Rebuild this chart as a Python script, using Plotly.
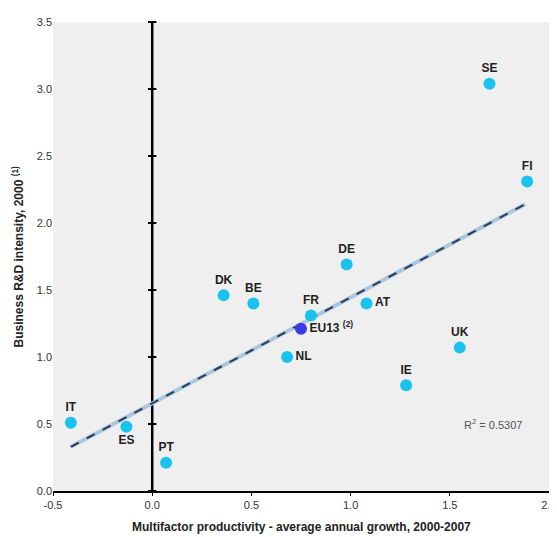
import plotly.graph_objects as go

countries = ["IT", "ES", "PT", "DK", "BE", "NL", "FR", "AT", "DE", "IE", "UK", "SE", "FI"]
mfp_growth = [-0.41, -0.13, 0.07, 0.36, 0.51, 0.68, 0.80, 1.08, 0.98, 1.28, 1.55, 1.70, 1.89]
rd_intensity = [0.51, 0.48, 0.21, 1.46, 1.40, 1.00, 1.31, 1.40, 1.69, 0.79, 1.07, 3.04, 2.31]
label_pos = ["top center", "bottom center", "top center", "top center", "top center",
             "middle right", "top center", "middle right", "top center", "top center",
             "top center", "top center", "top center"]

eu_label = ["EU13 <sup>(2)</sup>"]
eu_x = [0.75]
eu_y = [1.21]

trend_x = [-0.41, 1.88]
trend_y = [0.33, 2.14]

x_ticks = [-0.5, 0.0, 0.5, 1.0, 1.5, 2.0]
y_ticks = [0.0, 0.5, 1.0, 1.5, 2.0, 2.5, 3.0, 3.5]

x_title = "Multifactor productivity - average annual growth, 2000-2007"
y_title = "Business R&D intensity, 2000 <sup>(1)</sup>"
r2_text = "R<sup>2</sup> = 0.5307"

FONT = "Liberation Sans Narrow, Arial Narrow, Liberation Sans, Arial"

fig = go.Figure()

# vertical zero line
fig.add_shape(type="line", x0=0, x1=0, y0=0, y1=3.5, xref="x", yref="y",
              line=dict(color="black", width=2.5), layer="below")
# ticks on the zero line
fig.add_trace(go.Scatter(x=[0] * len(y_ticks), y=y_ticks, mode="markers",
                         marker=dict(symbol="line-ew", size=6, line=dict(color="black", width=2)),
                         hoverinfo="skip", showlegend=False, cliponaxis=False))

# trend line (light underlay + dark dash)
fig.add_trace(go.Scatter(x=trend_x, y=trend_y, mode="lines",
                         line=dict(color="#a9c8de", width=4), hoverinfo="skip", showlegend=False))
fig.add_trace(go.Scatter(x=trend_x, y=trend_y, mode="lines",
                         line=dict(color="#2b3a55", width=2, dash="dash"), hoverinfo="skip", showlegend=False))

fig.add_trace(go.Scatter(x=mfp_growth, y=rd_intensity, mode="markers+text",
                         text=countries, textposition=label_pos,
                         textfont=dict(family=FONT, size=12, color="#222222", weight="bold"),
                         marker=dict(size=12, color="#19c3ee"),
                         showlegend=False))
fig.add_trace(go.Scatter(x=eu_x, y=eu_y, mode="markers+text",
                         text=eu_label, textposition="middle right",
                         textfont=dict(family=FONT, size=12, color="#222222", weight="bold"),
                         marker=dict(size=12, color="#3a3ae6"),
                         showlegend=False))

fig.add_annotation(x=1.72, y=0.5, text=r2_text, showarrow=False,
                   font=dict(family=FONT, size=11, color="#555555"), xanchor="center")

# axis titles
fig.add_annotation(x=0.5, y=0, xref="paper", yref="paper", yshift=-27, yanchor="top",
                   text="<b>" + x_title + "</b>", showarrow=False,
                   font=dict(family=FONT, size=12, color="#222222"))
fig.add_annotation(x=0, y=0.5, xref="paper", yref="paper", xshift=-36, xanchor="center",
                   text="<b>" + y_title + "</b>", showarrow=False, textangle=-90,
                   font=dict(family=FONT, size=12, color="#222222"))

# page body has an 8px margin, so the figure is sized to end at the window edge
fig.update_layout(
    width=549, height=529,
    margin=dict(l=45, r=8, t=14, b=46),
    paper_bgcolor="white", plot_bgcolor="#efefef",
    font=dict(family=FONT, size=11, color="#222222"),
    xaxis=dict(range=[-0.5, 2.0], tickvals=x_ticks, ticktext=[f"{v:.1f}" for v in x_ticks],
               showgrid=False, zeroline=False, showline=True, linecolor="black", linewidth=2,
               ticks="outside", ticklen=3, tickcolor="black", automargin=False,
               tickfont=dict(family=FONT, size=11, color="#333333")),
    yaxis=dict(range=[0, 3.5], tickvals=y_ticks, ticktext=[f"{v:.1f}" for v in y_ticks],
               showgrid=False, zeroline=False, showline=False, ticks="", automargin=False,
               tickfont=dict(family=FONT, size=11, color="#333333")),
)

fig.write_html("out.html")
